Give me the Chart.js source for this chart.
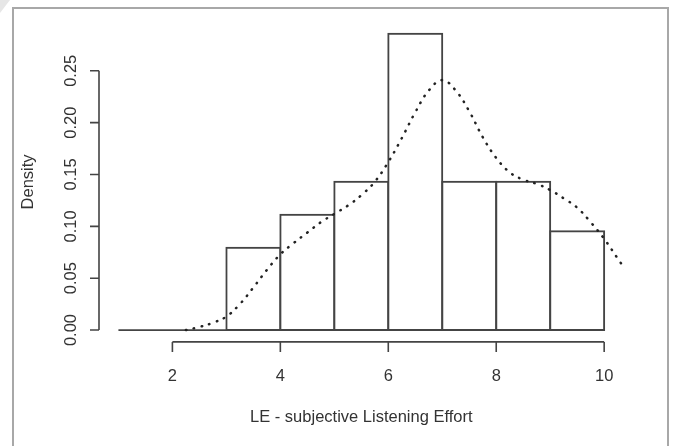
<!DOCTYPE html>
<html>
<head>
<meta charset="utf-8">
<script src="https://cdn.jsdelivr.net/npm/chart.js@4"></script>
<style>
  body { margin: 0; background: #fff; }
  #wrap { width: 674px; height: 446px; }
</style>
</head>
<body>
<div id="wrap"><canvas id="hist" width="674" height="446"></canvas></div>
<script>
"use strict"

// histogram bins (left edges) and densities
const binEdges = [1, 2, 3, 4, 5, 6, 7, 8, 9, 10];
const binDensity = [0, 0, 0.0794, 0.1111, 0.1429, 0.2857, 0.1429, 0.1429, 0.0952];

// kernel density curve
const densX = [2.25, 2.5, 2.75, 3.0, 3.25, 3.5, 3.75, 4.0, 4.25, 4.5, 4.75, 5.0, 5.25, 5.5, 5.75,
               6.0, 6.25, 6.5, 6.75, 7.0, 7.25, 7.5, 7.75, 8.0, 8.25, 8.5, 8.75, 9.0, 9.25, 9.5,
               9.75, 10.0, 10.25, 10.45];
const densY = [0, 0.003, 0.007, 0.013, 0.025, 0.041, 0.058, 0.073, 0.084, 0.094, 0.104, 0.112, 0.120,
               0.130, 0.143, 0.162, 0.185, 0.210, 0.231, 0.241, 0.231, 0.211, 0.186, 0.166, 0.152,
               0.145, 0.141, 0.135, 0.127, 0.118, 0.104, 0.088, 0.069, 0.054];

// axis ticks
const xTicks = [2, 4, 6, 8, 10];
const yTicks = [0, 0.05, 0.10, 0.15, 0.20, 0.25];
const yTickLabels = ["0.00", "0.05", "0.10", "0.15", "0.20", "0.25"];

const xTitle = "LE - subjective Listening Effort";
const yTitle = "Density";

const FONT = "16.5px 'Liberation Sans', Arial, sans-serif";
const INK = "#444";

const barData = binDensity.map((d, i) => ({ x: (binEdges[i] + binEdges[i + 1]) / 2, y: d }));
const curveData = densX.map((x, i) => ({ x: x, y: densY[i] }));
const baseData = [{ x: binEdges[0], y: 0 }, { x: binEdges[binEdges.length - 1], y: 0 }];

// R style axes, frame and titles
const rAxes = {
    id: "rAxes",
    afterDraw(chart) {
        const ctx = chart.ctx;
        const xs = chart.scales.x;
        const ys = chart.scales.y;
        const area = chart.chartArea;
        ctx.save();

        // corner shading and outer frame
        ctx.fillStyle = "#e6e6e6";
        ctx.beginPath();
        ctx.moveTo(0, 0); ctx.lineTo(10, 0); ctx.lineTo(0, 13); ctx.closePath();
        ctx.fill();
        ctx.strokeStyle = "#a8a8a8";
        ctx.lineWidth = 2;
        ctx.strokeRect(13, 8, 655, 460);

        ctx.strokeStyle = INK;
        ctx.lineWidth = 1.6;
        ctx.fillStyle = "#333";
        ctx.font = FONT;

        // y axis
        const yl = area.left;
        ctx.beginPath();
        ctx.moveTo(yl, ys.getPixelForValue(yTicks[0]));
        ctx.lineTo(yl, ys.getPixelForValue(yTicks[yTicks.length - 1]));
        yTicks.forEach(v => {
            const py = ys.getPixelForValue(v);
            ctx.moveTo(yl, py);
            ctx.lineTo(yl - 9, py);
        });
        ctx.stroke();
        ctx.textAlign = "center";
        ctx.textBaseline = "alphabetic";
        yTicks.forEach((v, i) => {
            ctx.save();
            ctx.translate(yl - 23, ys.getPixelForValue(v));
            ctx.rotate(-Math.PI / 2);
            ctx.fillText(yTickLabels[i], 0, 0);
            ctx.restore();
        });

        // x axis
        const xb = area.bottom;
        ctx.beginPath();
        ctx.moveTo(xs.getPixelForValue(xTicks[0]), xb);
        ctx.lineTo(xs.getPixelForValue(xTicks[xTicks.length - 1]), xb);
        xTicks.forEach(v => {
            const px = xs.getPixelForValue(v);
            ctx.moveTo(px, xb);
            ctx.lineTo(px, xb + 10);
        });
        ctx.stroke();
        xTicks.forEach(v => {
            ctx.fillText(String(v), xs.getPixelForValue(v), xb + 39);
        });

        // titles
        ctx.fillText(xTitle, (area.left + area.right) / 2, xb + 80);
        ctx.save();
        ctx.translate(33, (area.top + area.bottom) / 2);
        ctx.rotate(-Math.PI / 2);
        ctx.fillText(yTitle, 0, 0);
        ctx.restore();

        ctx.restore();
    }
};

new Chart(document.getElementById("hist"), {
    type: "bar",
    data: {
        datasets: [
            {
                type: "line",
                data: curveData,
                borderColor: "#222",
                borderWidth: 2.5,
                borderDash: [0.5, 7.5],
                borderCapStyle: "round",
                pointRadius: 0,
                tension: 0.4,
                fill: false,
                order: 0
            },
            {
                type: "line",
                data: baseData,
                borderColor: INK,
                borderWidth: 1.8,
                pointRadius: 0,
                fill: false,
                order: 1
            },
            {
                type: "bar",
                data: barData,
                backgroundColor: "#fff",
                borderColor: INK,
                borderWidth: 2,
                borderSkipped: false,
                inflateAmount: 1,
                barPercentage: 1,
                categoryPercentage: 1,
                order: 2
            }
        ]
    },
    options: {
        responsive: false,
        animation: false,
        layout: { padding: { left: 99, right: 50.4, top: 21.9, bottom: 104.1 } },
        plugins: { legend: { display: false }, tooltip: { enabled: false } },
        scales: {
            x: { type: "linear", min: 0.64, max: 10.36, offset: false, display: false },
            y: { type: "linear", min: -0.01143, max: 0.29714, display: false }
        }
    },
    plugins: [rAxes]
});
</script>
</body>
</html>
